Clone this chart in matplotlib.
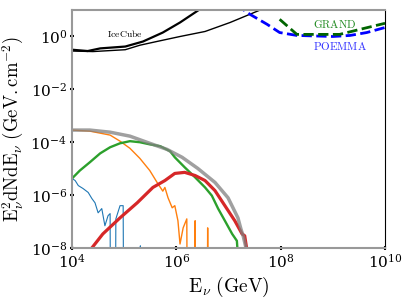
import numpy as np
import matplotlib
matplotlib.use('Agg')
import matplotlib.pyplot as plt
from matplotlib.ticker import FixedLocator, NullLocator

plt.rcParams['mathtext.fontset'] = 'cm'
plt.rcParams['font.family'] = ['DejaVu Serif']

# all values are log10(E / GeV) and log10(E^2 dN/dE)
# -20 stands for "zero" (curve drops off the bottom)
icecube1_logE = [4.0, 4.3, 4.54, 5.02, 5.36, 5.74, 6.07, 6.45, 6.65]
icecube1_logF = [-0.50, -0.55, -0.45, -0.38, -0.19, 0.15, 0.53, 1.03, 1.3]
icecube2_logE = [4.0, 4.4, 5.02, 5.3, 5.6, 6.07, 6.55, 7.03, 7.64, 7.8]
icecube2_logF = [-0.55, -0.57, -0.50, -0.33, -0.2, 0.0, 0.19, 0.53, 1.03, 1.15]

poemma_logE = [7.15, 7.41, 7.74, 7.98, 8.31, 9.0, 9.33, 9.65, 10.0]
poemma_logF = [1.2, 0.84, 0.46, 0.15, 0.04, 0.0, 0.04, 0.15, 0.34]
grand_logE = [7.98, 8.31, 9.13, 9.52, 10.0]
grand_logF = [0.65, 0.08, 0.08, 0.27, 0.50]

total_logE = [4.0, 4.34, 4.73, 5.11, 5.49, 5.82, 6.11, 6.41, 6.74, 6.99, 7.18, 7.24, 7.28, 7.37]
total_logF = [-3.54, -3.54, -3.62, -3.77, -4.04, -4.27, -4.57, -4.99, -5.52, -6.10, -6.86, -7.3, -7.54, -8.3]

orange_logE = [4.0, 4.34, 4.73, 4.92, 5.11, 5.30, 5.49, 5.63, 5.74, 5.78, 5.84, 5.92, 5.97,
               6.03, 6.07, 6.13, 6.20, 6.23, 6.33, 6.36, 6.39, 6.57, 6.60, 6.63]
orange_logF = [-3.54, -3.58, -3.73, -3.96, -4.23, -4.61, -5.07, -5.52, -5.85, -5.71, -6.1, -6.48, -6.4,
               -6.97, -7.85, -7.24, -6.9, -20, -20, -6.97, -20, -20, -7.24, -20]

blue_logE = [4.0, 4.06, 4.12, 4.21, 4.31, 4.38, 4.44, 4.50, 4.57, 4.63, 4.69, 4.73, 4.75,
             4.81, 4.84, 4.92, 4.98, 5.01, 5.29, 5.31, 5.33]
blue_logF = [-5.37, -5.45, -5.64, -5.75, -5.9, -6.13, -6.29, -6.67, -6.51, -7.16, -6.78, -6.7, -20,
             -20, -6.9, -6.4, -6.4, -20, -20, -7.92, -20]

green_logE = [4.0, 4.15, 4.34, 4.54, 4.73, 4.92, 5.11, 5.30, 5.49, 5.69, 5.88, 5.97, 6.16,
              6.36, 6.55, 6.68, 6.80, 6.93, 7.07, 7.16, 7.18]
green_logF = [-5.37, -5.07, -4.76, -4.42, -4.19, -4.04, -3.96, -4.0, -4.08, -4.15, -4.34, -4.57, -4.95,
              -5.33, -5.71, -6.02, -6.51, -6.97, -7.47, -7.73, -8.3]

red_logE = [4.34, 4.59, 4.92, 5.25, 5.55, 5.78, 5.97, 6.16, 6.36, 6.55, 6.74, 6.93, 7.12, 7.26, 7.31, 7.37]
red_logF = [-8.1, -7.47, -6.86, -6.29, -5.71, -5.45, -5.18, -5.14, -5.26, -5.45, -5.83, -6.4, -6.97, -7.47, -7.54, -8.3]


def pw(a):
    return 10.0 ** np.array(a)


fig = plt.figure(figsize=(4.07, 3.05), dpi=100)
ax = fig.add_axes([0.177, 0.187, 0.769, 0.78])

ax.plot(pw(icecube1_logE), pw(icecube1_logF), color='k', lw=1.6)
ax.plot(pw(icecube2_logE), pw(icecube2_logF), color='k', lw=1.0)
ax.plot(pw(poemma_logE), pw(poemma_logF), color='blue', lw=2, ls='--')
ax.plot(pw(grand_logE), pw(grand_logF), color='darkgreen', lw=2, ls='--')

ax.plot(pw(blue_logE), pw(blue_logF), color='C0', lw=0.8)
ax.plot(pw(orange_logE), pw(orange_logF), color='C1', lw=1.0)
ax.plot(pw(green_logE), pw(green_logF), color='C2', lw=1.7)
ax.plot(pw(red_logE), pw(red_logF), color='C3', lw=2.3)
ax.plot(pw(total_logE), pw(total_logF), color='grey', lw=2.5, alpha=0.75)

ax.text(1.05e5, 1.25, r'$\mathrm{IceCube}$', fontsize=7, ha='center', va='center')
ax.text(1.1e9, 2.9, r'$\mathrm{GRAND}$', fontsize=8, color='forestgreen', ha='center', va='center')
ax.text(1.4e9, 0.42, r'$\mathrm{POEMMA}$', fontsize=8, color='#3333ff', ha='center', va='center')

ax.set_xscale('log')
ax.set_yscale('log')
ax.set_xlim(1e4, 1e10)
ax.set_ylim(1e-8, 1e1)
ax.xaxis.set_major_locator(FixedLocator([1e4, 1e6, 1e8, 1e10]))
ax.yaxis.set_major_locator(FixedLocator([1e-8, 1e-6, 1e-4, 1e-2, 1e0]))
ax.xaxis.set_minor_locator(NullLocator())
ax.yaxis.set_minor_locator(NullLocator())
ax.tick_params(direction='inout', length=3, width=1.5, labelsize=11, pad=2)

for s in ['left', 'top', 'bottom']:
    ax.spines[s].set_color('#999999')
    ax.spines[s].set_linewidth(1.5)
ax.spines['right'].set_color('k')
ax.spines['right'].set_linewidth(0.8)

ax.set_xlabel(r'$\mathrm{E}_\nu\ (\mathrm{GeV})$', fontsize=14, labelpad=3)
ax.set_ylabel(r'$\mathrm{E}^2_\nu\mathrm{dNdE}_\nu\ (\mathrm{GeV.cm}^{-2})$', fontsize=13.5, labelpad=3)

fig.savefig('out.png', dpi=100)
